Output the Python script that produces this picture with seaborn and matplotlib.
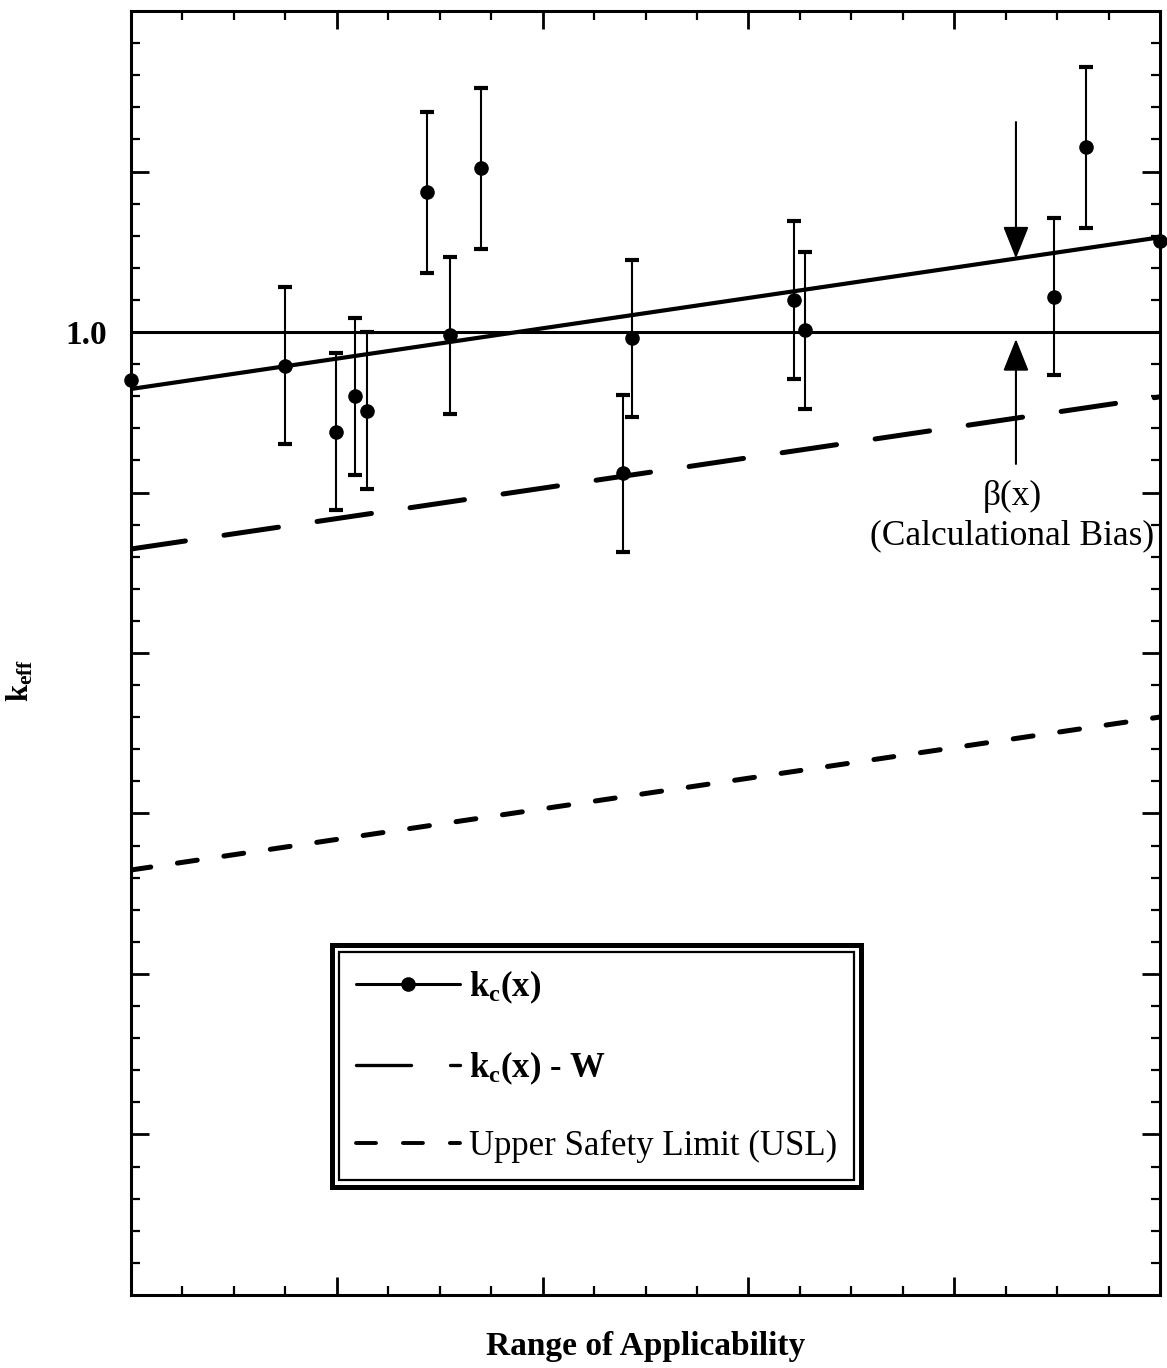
import numpy as np
import matplotlib
matplotlib.use("Agg")
import matplotlib.pyplot as plt
import seaborn as sns
from matplotlib.lines import Line2D
from matplotlib.patches import Rectangle
from matplotlib.ticker import MultipleLocator, FuncFormatter

# measured benchmark results k_c(x) with uncertainty
x_pts = [0.0, 0.75, 0.995, 1.09, 1.145, 1.44, 1.55, 1.70, 2.39, 2.435, 3.22, 3.275, 4.485, 4.64, 5.0]
k_pts = [0.9970, 0.9979, 0.9938, 0.9960, 0.9951, 1.0087, 0.9998, 1.0102, 0.9912,
         0.9996, 1.0020, 1.0001, 1.0022, 1.0115, 1.0057]
k_err = [0.0, 0.0049, 0.0049, 0.0049, 0.0049, 0.0050, 0.0049, 0.0050, 0.0049,
         0.0049, 0.0049, 0.0049, 0.0049, 0.0050, 0.0]

# fitted trend, trend minus W, and upper safety limit (end points)
line_x = [0.0, 5.0]
fit_k = [0.99645, 1.0059]
fit_minus_w = [0.98648, 0.99596]
usl_k = [0.96648, 0.97601]

reference_k = 1.0

sns.set_theme(style="ticks")
plt.rcParams["font.family"] = ["Liberation Serif", "DejaVu Serif"]
plt.rcParams["mathtext.fontset"] = "custom"
plt.rcParams["mathtext.rm"] = "Liberation Serif"
plt.rcParams["mathtext.bf"] = "Liberation Serif:bold"
plt.rcParams["mathtext.it"] = "Liberation Serif:italic"
plt.rcParams["lines.scale_dashes"] = False
for key in ["text.color", "axes.labelcolor", "xtick.color", "ytick.color", "axes.edgecolor"]:
    plt.rcParams[key] = "black"

fig = plt.figure(figsize=(11.67, 13.68), dpi=100)
ax = fig.add_axes([131 / 1167, 73 / 1368, 1029 / 1167, 1284 / 1368])

long_dash = (0, (39.6, 28.1))
short_dash = (0, (14.4, 19.4))

# horizontal reference at k = 1.0
ax.axhline(reference_k, color="black", lw=2.2, zorder=2)

sns.lineplot(x=line_x, y=fit_k, ax=ax, color="black", lw=3.0, zorder=3)
sns.lineplot(x=line_x, y=fit_minus_w, ax=ax, color="black", lw=3.6,
             linestyle=long_dash, dash_capstyle="round", zorder=3)
sns.lineplot(x=line_x, y=usl_k, ax=ax, color="black", lw=3.6,
             linestyle=short_dash, dash_capstyle="round", zorder=3)

xp = np.array(x_pts)
kp = np.array(k_pts)
ke = np.array(k_err)
has_err = ke > 0
ax.errorbar(xp[has_err], kp[has_err], yerr=ke[has_err], fmt="none", ecolor="black",
            elinewidth=1.5, capsize=5, capthick=3, zorder=4)
sns.scatterplot(x=x_pts, y=k_pts, ax=ax, color="black", s=110, linewidth=0,
                zorder=5, clip_on=False, legend=False)

# calculational bias arrows
arrow_kw = dict(arrowstyle="-|>,head_length=2.0,head_width=0.8", color="black",
                lw=1.5, shrinkA=0, shrinkB=0, mutation_scale=10)
ax.annotate("", xy=(4.30, 1.00458), xytext=(4.30, 1.01308), arrowprops=arrow_kw)
ax.annotate("", xy=(4.30, 0.99956), xytext=(4.30, 0.99178), arrowprops=arrow_kw)
ax.text(4.28, 0.98975, "\u03b2(x)", ha="center", va="center", fontsize=25.5)
ax.text(4.28, 0.98733, "(Calculational Bias)", ha="center", va="center", fontsize=25.5)

ax.set_xlim(0, 5)
ax.set_ylim(0.94, 1.02)
ax.xaxis.set_major_locator(MultipleLocator(1))
ax.xaxis.set_minor_locator(MultipleLocator(0.25))
ax.yaxis.set_major_locator(MultipleLocator(0.01))
ax.yaxis.set_minor_locator(MultipleLocator(0.002))
ax.xaxis.set_major_formatter(FuncFormatter(lambda v, p: ""))
ax.yaxis.set_major_formatter(FuncFormatter(lambda v, p: "1.0" if abs(v - 1.0) < 1e-9 else ""))
ax.tick_params(which="both", direction="in", top=True, right=True, color="black", width=2)
ax.tick_params(which="major", length=13, pad=17, labelsize=24)
ax.tick_params(which="minor", length=6.5, width=1.6)
for lab in ax.get_yticklabels():
    lab.set_fontweight("bold")
for sp in ax.spines.values():
    sp.set_linewidth(2.2)
    sp.set_color("black")
ax.grid(False)

ax.set_xlabel("Range of Applicability", fontsize=24, fontweight="bold", labelpad=9)
ax.set_ylabel(r"k$_\mathbf{eff}$", fontsize=22, fontweight="bold")
ax.yaxis.set_label_coords(-0.093, 0.479)

handles = [
    Line2D([], [], color="black", lw=2.2, marker="o", markersize=9.5),
    Line2D([], [], color="black", lw=2.4, linestyle=long_dash, dash_capstyle="round"),
    Line2D([], [], color="black", lw=2.8, linestyle=short_dash, dash_capstyle="round"),
]
labels = [r"k$_\mathbf{c}$(x)", r"k$_\mathbf{c}$(x) - W", "Upper Safety Limit (USL)"]
leg = ax.legend(handles, labels, loc="lower left", bbox_to_anchor=(0.195, 0.084),
                borderaxespad=0, fontsize=25, handlelength=3.0, handletextpad=0.25,
                borderpad=0.7, labelspacing=1.24, numpoints=1, fancybox=False,
                framealpha=1, edgecolor="black", facecolor="white")
leg.get_frame().set_linewidth(3.6)
for i, t in enumerate(leg.get_texts()):
    t.set_fontweight("bold" if i < 2 else "normal")

# inner line of the double legend border
fig.canvas.draw()
bb = leg.get_window_extent()
W, H = fig.bbox.width, fig.bbox.height
d = 7
fig.add_artist(Rectangle(((bb.x0 + d) / W, (bb.y0 + d) / H), (bb.width - 2 * d) / W,
                         (bb.height - 2 * d) / H, transform=fig.transFigure,
                         fill=False, edgecolor="black", lw=1.6, zorder=10))

fig.savefig("out.png", dpi=100)
